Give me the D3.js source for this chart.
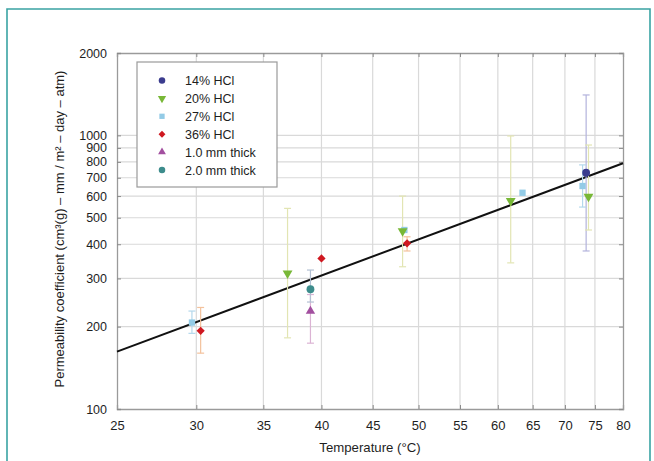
<!DOCTYPE html>
<html>
<head>
<meta charset="utf-8">
<script src="https://cdn.jsdelivr.net/npm/d3@7"></script>
<style>
  body { margin: 0; background: #fff; }
  svg { display: block; font-family: 'Liberation Sans', Arial, sans-serif; }
</style>
</head>
<body>
<div id="chart"></div>
<script>
const WIDTH = 654
const HEIGHT = 461
const LEFT = 117, RIGHT = 623, TOP = 53, BOTTOM = 409

// ticks
const X_TICKS = [25, 30, 35, 40, 45, 50, 55, 60, 65, 70, 75, 80]
const Y_TICKS = [100, 200, 300, 400, 500, 600, 700, 800, 900, 1000, 2000]

// series names
const SERIES = ['14% HCl', '20% HCl', '27% HCl', '36% HCl', '1.0 mm thick', '2.0 mm thick']

// points: [temperature, permeability, error low, error high]
const hcl14 = [[73.5, 730, 378, 1405]]
const hcl20 = [[37.0, 313, 182, 541], [48.2, 447, 331, 600], [61.8, 577, 342, 995], [73.9, 597, 451, 922]]
const hcl27 = [[29.7, 207, 189, 228], [48.4, 451, null, null], [63.5, 617, null, null], [72.9, 653, 547, 780]]
const hcl36 = [[30.3, 193, 160, 235], [40.0, 355, null, null], [48.7, 403, 378, 426]]
const thick10 = [[39.0, 228, 174, 262]]
const thick20 = [[39.0, 274, 246, 322]]

// fit line ends
const FIT_T = [25, 80]
const FIT_P = [162, 791]

const ALL = [hcl14, hcl20, hcl27, hcl36, thick10, thick20]
const COLORS = ['#3b3c8e', '#78b837', '#93cbe6', '#cf1820', '#a24f9f', '#3d8c8c']
const ERR_COLORS = ['#b3b3dc', '#e2e5b3', '#b4d8ec', '#f3c29c', '#dbb3d4', '#b3c0d3']
const SHAPES = [d3.symbolCircle, d3.symbolTriangle, d3.symbolSquare, d3.symbolSquare, d3.symbolTriangle, d3.symbolCircle]
const ROT = [0, 180, 0, 45, 0, 0]
const SIZES = [48, 42, 40, 34, 38, 48]

const svg = d3.select('#chart').append('svg').attr('width', WIDTH).attr('height', HEIGHT)

// teal frame
svg.append('path')
    .attr('d', `M7,${HEIGHT + 5} V9 H650 V${HEIGHT + 5}`)
    .attr('fill', 'none')
    .attr('stroke', '#3aa3a3')
    .attr('stroke-width', 1.6)

const x = d3.scaleLog().domain([25, 80]).range([LEFT, RIGHT])
const y = d3.scaleLog().domain([100, 2000]).range([BOTTOM, TOP])

// grid
const grid = svg.append('g')
grid.selectAll('.vg').data(X_TICKS.slice(1, -1)).enter().append('line')
    .attr('x1', d => x(d)).attr('x2', d => x(d))
    .attr('y1', TOP).attr('y2', BOTTOM)
    .attr('stroke', '#d9d9d9').attr('stroke-width', 1.2)
grid.selectAll('.hg').data(Y_TICKS.slice(1, -1)).enter().append('line')
    .attr('x1', LEFT).attr('x2', RIGHT)
    .attr('y1', d => y(d)).attr('y2', d => y(d))
    .attr('stroke', '#d9d9d9').attr('stroke-width', 1.2)

// axes (inner ticks on all sides)
const fmt = d => d
const axB = svg.append('g').attr('transform', `translate(0,${BOTTOM})`)
    .call(d3.axisBottom(x).tickValues(X_TICKS).tickFormat(fmt).tickSize(-4).tickPadding(12))
const axT = svg.append('g').attr('transform', `translate(0,${TOP})`)
    .call(d3.axisTop(x).tickValues(X_TICKS).tickFormat('').tickSize(-4))
const axL = svg.append('g').attr('transform', `translate(${LEFT},0)`)
    .call(d3.axisLeft(y).tickValues(Y_TICKS).tickFormat(fmt).tickSize(-4).tickPadding(10))
const axR = svg.append('g').attr('transform', `translate(${RIGHT},0)`)
    .call(d3.axisRight(y).tickValues(Y_TICKS).tickFormat('').tickSize(-4))

;[axB, axT, axL, axR].forEach(a => {
    a.select('.domain').attr('stroke', '#9a9a9a').attr('stroke-width', 1.3)
    a.selectAll('.tick line').attr('stroke', '#8a8a8a')
    a.selectAll('text').attr('font-size', 13).attr('fill', '#1e1e1e')
        .attr('font-family', "'Liberation Sans', Arial, sans-serif")
})
axL.selectAll('text').attr('font-size', 12.5)

// axis titles
svg.append('text')
    .attr('x', 370).attr('y', 452)
    .attr('text-anchor', 'middle')
    .attr('font-size', 13.2).attr('fill', '#1e1e1e')
    .text('Temperature (°C)')

svg.append('text')
    .attr('transform', 'translate(64,229) rotate(-90)')
    .attr('text-anchor', 'middle')
    .attr('font-size', 13).attr('fill', '#1e1e1e')
    .text('Permeability coefficient (cm³(g) – mm / m² – day – atm)')

// fit line
svg.append('line')
    .attr('x1', x(FIT_T[0])).attr('y1', y(FIT_P[0]))
    .attr('x2', x(FIT_T[1])).attr('y2', y(FIT_P[1]))
    .attr('stroke', '#111').attr('stroke-width', 2)

// error bars
ALL.forEach((pts, i) => {
    const g = svg.append('g').attr('stroke', ERR_COLORS[i]).attr('stroke-width', 1.2)
    pts.filter(d => d[2] != null).forEach(d => {
        const cx = x(d[0])
        g.append('line').attr('x1', cx).attr('x2', cx).attr('y1', y(d[2])).attr('y2', y(d[3]))
        g.append('line').attr('x1', cx - 3.5).attr('x2', cx + 3.5).attr('y1', y(d[2])).attr('y2', y(d[2]))
        g.append('line').attr('x1', cx - 3.5).attr('x2', cx + 3.5).attr('y1', y(d[3])).attr('y2', y(d[3]))
    })
})

// markers (light ones first so the 14% circle sits on top)
const order = [2, 1, 3, 4, 5, 0]
order.forEach(i => {
    const sym = d3.symbol().type(SHAPES[i]).size(SIZES[i])
    svg.append('g').selectAll('path').data(ALL[i]).enter().append('path')
        .attr('d', sym)
        .attr('transform', d => `translate(${x(d[0])},${y(d[1])}) rotate(${ROT[i]})`)
        .attr('fill', COLORS[i])
})

// legend
const lg = svg.append('g')
lg.append('rect')
    .attr('x', 137).attr('y', 62).attr('width', 140).attr('height', 125)
    .attr('fill', '#fff').attr('stroke', '#9a9a9a').attr('stroke-width', 1.2)
SERIES.forEach((name, i) => {
    const ly = 80.5 + i * 17.9
    lg.append('path')
        .attr('d', d3.symbol().type(SHAPES[i]).size(SIZES[i] * 0.7))
        .attr('transform', `translate(162,${ly}) rotate(${ROT[i]})`)
        .attr('fill', COLORS[i])
    lg.append('text')
        .attr('x', 185).attr('y', ly + 4.5)
        .attr('font-size', 12.5).attr('fill', '#1e1e1e')
        .text(name)
})
</script>
</body>
</html>
